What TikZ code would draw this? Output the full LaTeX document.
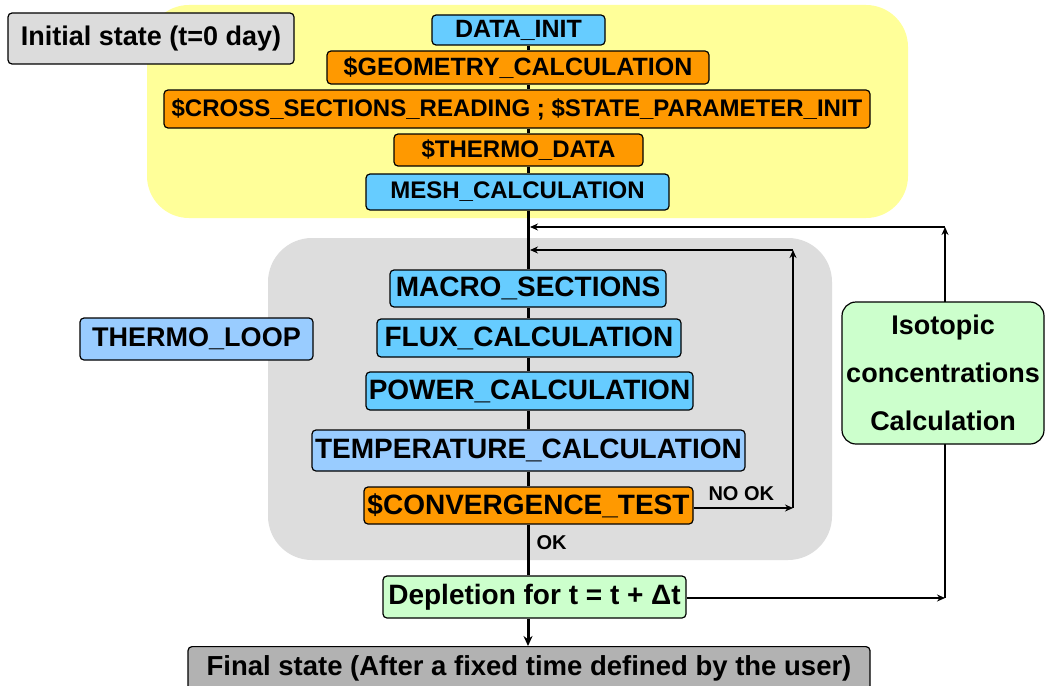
\documentclass[tikz,border=0pt]{standalone}
\usepackage{fontspec}
\setmainfont{Liberation Sans}
\usetikzlibrary{arrows.meta}
\pgfdeclarelayer{regions}
\pgfdeclarelayer{lines}
\pgfsetlayers{regions,lines,main}
\definecolor{cblue}{HTML}{66CCFF}
\definecolor{lblue}{HTML}{99CCFF}
\definecolor{corange}{HTML}{FF9900}
\definecolor{cgreen}{HTML}{CCFFCC}
\definecolor{cyellow}{HTML}{FFFF99}
\definecolor{cregion}{HTML}{DDDDDD}
\definecolor{cinit}{HTML}{DCDCDC}
\definecolor{cfinal}{HTML}{B2B2B2}
\tikzset{
  box/.style={draw=black, line width=1.2pt, rounded corners=4pt, inner sep=0pt, align=center, font=\bfseries},
  bluebox/.style={box, fill=cblue},
  lbluebox/.style={box, fill=lblue},
  orangebox/.style={box, fill=corange},
  greenbox/.style={box, fill=cgreen},
  topfont/.style={font=\bfseries\fontsize{24}{26}\selectfont},
  loopfont/.style={font=\bfseries\fontsize{28}{30}\selectfont},
  mainline/.style={line width=3pt},
  loopline/.style={line width=2pt},
  tip/.style={-{Stealth[length=8pt,width=7pt]}},
}
\begin{document}
\begin{tikzpicture}[x=1pt,y=-1pt]
\useasboundingbox (0,0) rectangle (1046,685);
% regions
\begin{pgfonlayer}{regions}
\fill[white] (0,0) rectangle (1046,685);
\fill[cyellow, rounded corners=42pt] (147,5) rectangle (908,218);
\fill[cregion, rounded corners=44pt] (268,238) rectangle (832,560);
\end{pgfonlayer}
% nodes
\node[box, fill=cinit, minimum width=286pt, minimum height=51pt, font=\bfseries\fontsize{27}{29}\selectfont] (init) at (151,38.5) {Initial state (t=0 day)};
\node[bluebox, minimum width=173pt, minimum height=30pt, font=\bfseries\fontsize{25}{27}\selectfont] (data) at (518.5,30) {DATA\_INIT};
\node[orangebox, minimum width=382pt, minimum height=33pt, font=\bfseries\fontsize{25}{27}\selectfont] (geom) at (518,67.5) {\$GEOMETRY\_CALCULATION};
\node[orangebox, minimum width=706pt, minimum height=38pt, topfont] (cross) at (517,109) {\$CROSS\_SECTIONS\_READING ; \$STATE\_PARAMETER\_INIT};
\node[orangebox, minimum width=249pt, minimum height=32pt, topfont] (thermo) at (518.5,150) {\$THERMO\_DATA};
\node[bluebox, minimum width=303pt, minimum height=36pt, topfont] (mesh) at (517.5,192) {MESH\_CALCULATION};
\node[lbluebox, minimum width=233pt, minimum height=42pt, font=\bfseries\fontsize{27}{29}\selectfont] (loop) at (196.5,339) {THERMO\_LOOP};
\node[bluebox, minimum width=276pt, minimum height=37pt, loopfont] (macro) at (528,288.5) {MACRO\_SECTIONS};
\node[bluebox, minimum width=304pt, minimum height=38pt, loopfont] (flux) at (529,338) {FLUX\_CALCULATION};
\node[bluebox, minimum width=327pt, minimum height=38pt, loopfont] (power) at (529.5,391) {POWER\_CALCULATION};
\node[lbluebox, minimum width=433pt, minimum height=41pt, loopfont] (temp) at (528.5,450.5) {TEMPERATURE\_CALCULATION};
\node[orangebox, minimum width=329pt, minimum height=37pt, loopfont] (conv) at (528.5,505.5) {\$CONVERGENCE\_TEST};
\node[greenbox, minimum width=303pt, minimum height=42pt, loopfont] (depl) at (534.5,597) {Depletion for t = t + Δt};
\node[box, fill=cfinal, minimum width=682pt, minimum height=52pt, anchor=north] (final) at (529,646) {};
\node[font=\bfseries\fontsize{27.5}{29}\selectfont] (finaltxt) at (529,668) {Final state (After a fixed time defined by the user)};
\node[greenbox, rounded corners=14pt, minimum width=202pt, minimum height=142pt, font=\bfseries\fontsize{27}{30}\selectfont] (iso) at (943,373) {Isotopic\\[18pt]concentrations\\[18pt]Calculation};
\node[font=\bfseries\fontsize{20}{22}\selectfont, anchor=west] (nook) at (705,494) {NO OK};
\node[font=\bfseries\fontsize{20}{22}\selectfont, anchor=west] (ok) at (533,543) {OK};
% coordinates
\coordinate (j1) at (530,227);
\coordinate (j2) at (530,250);
\coordinate (c1) at (945,227);
\coordinate (c2) at (945,598);
\coordinate (l1) at (793,250);
\coordinate (l2) at (793,508);
% connectors
\begin{pgfonlayer}{lines}
\draw[mainline] (data.south -| 528,0) -- (geom.north -| 528,0);
\draw[mainline] (geom.south -| 528,0) -- (cross.north -| 528,0);
\draw[mainline] (cross.south -| 528,0) -- (thermo.north -| 528,0);
\draw[mainline] (thermo.south -| 528,0) -- (mesh.north -| 528,0);
\draw[mainline] (mesh.south -| 528,0) -- (macro.north -| 528,0);
\draw[mainline] (macro.south -| 528,0) -- (flux.north -| 528,0);
\draw[mainline] (flux.south -| 528,0) -- (power.north -| 528,0);
\draw[mainline] (power.south -| 528,0) -- (temp.north -| 528,0);
\draw[mainline] (temp.south -| 528,0) -- (conv.north -| 528,0);
\draw[mainline] (conv.south -| 528,0) -- (depl.north -| 528,0);
\draw[mainline, -{Stealth[length=10pt,width=9pt]}] (depl.south -| 528,0) -- (final.north -| 528,0);
\draw[loopline, tip] (conv.east |- l2) -- (l2);
\draw[loopline, tip] (l2) -- (l1);
\draw[loopline, tip] (l1) -- (j2);
\draw[loopline, tip] (depl.east |- c2) -- (c2);
\draw[loopline, tip] (c2) -- (c1);
\draw[loopline, tip] (c1) -- (j1);
\end{pgfonlayer}
\end{tikzpicture}
\end{document}
